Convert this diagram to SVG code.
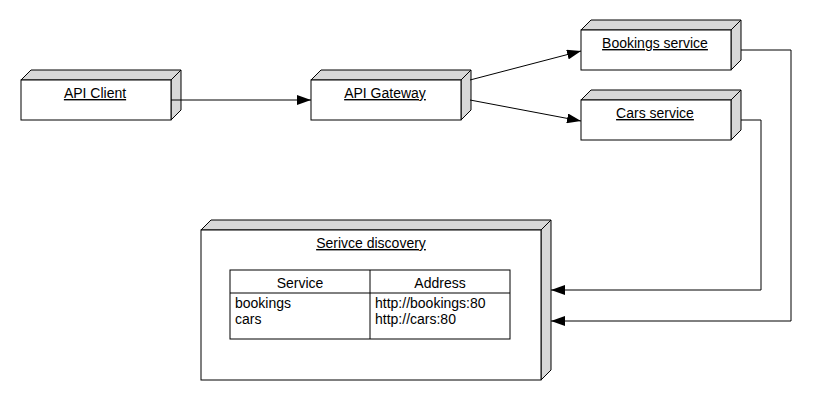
<svg xmlns="http://www.w3.org/2000/svg" width="830" height="400" viewBox="0 0 830 400">
<style>
.face{fill:#d8d8d8;stroke:#000;stroke-width:1}
.front{fill:#fff;stroke:#000;stroke-width:1}
.lbl{font-family:"Liberation Sans",Arial,sans-serif;font-size:14px;fill:#000;text-anchor:middle;text-decoration:underline}
.txt{font-family:"Liberation Sans",Arial,sans-serif;font-size:14px;fill:#000}
.conn{fill:none;stroke:#000;stroke-width:1}
</style>
<defs>
<marker id="arr" viewBox="0 0 14 10" refX="14" refY="5" markerWidth="14" markerHeight="10" markerUnits="userSpaceOnUse" orient="auto">
<path d="M0,0 L14,5 L0,10 Z" fill="#000"/>
</marker>
</defs>
<rect width="830" height="400" fill="#fff"/>
<g id="api-client">
<polygon class="face" points="21,80 31,70 181,70 171,80"/>
<polygon class="face" points="171,80 181,70 181,110 171,120"/>
<rect class="front" x="21" y="80" width="150" height="40"/>
<text class="lbl" x="95" y="98">API Client</text>
</g>
<g id="api-gateway">
<polygon class="face" points="311,80 321,70 471,70 461,80"/>
<polygon class="face" points="461,80 471,70 471,110 461,120"/>
<rect class="front" x="311" y="80" width="150" height="40"/>
<text class="lbl" x="385" y="98">API Gateway</text>
</g>
<g id="bookings-service">
<polygon class="face" points="581,30 591,20 741,20 731,30"/>
<polygon class="face" points="731,30 741,20 741,60 731,70"/>
<rect class="front" x="581" y="30" width="150" height="40"/>
<text class="lbl" x="655" y="48">Bookings service</text>
</g>
<g id="cars-service">
<polygon class="face" points="581,100 591,90 741,90 731,100"/>
<polygon class="face" points="731,100 741,90 741,130 731,140"/>
<rect class="front" x="581" y="100" width="150" height="40"/>
<text class="lbl" x="655" y="118">Cars service</text>
</g>
<g id="service-discovery">
<polygon class="face" points="201,230 211,220 551,220 541,230"/>
<polygon class="face" points="541,230 551,220 551,370 541,380"/>
<rect class="front" x="201" y="230" width="340" height="150"/>
<text class="lbl" x="371" y="248">Serivce discovery</text>
<rect class="front" x="230" y="270" width="280" height="69"/>
<line class="conn" x1="370" y1="270" x2="370" y2="339" stroke-width="1.5"/>
<line class="conn" x1="230" y1="293" x2="510" y2="293"/>
<text class="txt" x="300" y="288" text-anchor="middle">Service</text>
<text class="txt" x="440" y="288" text-anchor="middle">Address</text>
<text class="txt" x="235" y="308">bookings</text>
<text class="txt" x="235" y="324">cars</text>
<text class="txt" x="375" y="308">http://bookings:80</text>
<text class="txt" x="375" y="324">http://cars:80</text>
</g>
<g id="connectors">
<line class="conn" x1="171" y1="100" x2="311" y2="100" marker-end="url(#arr)"/>
<line class="conn" x1="470" y1="80" x2="581" y2="51" marker-end="url(#arr)"/>
<line class="conn" x1="470" y1="100" x2="581" y2="121" marker-end="url(#arr)"/>
<polyline class="conn" points="741,50 791,50 791,321 551,321" marker-end="url(#arr)"/>
<polyline class="conn" points="741,120 761,120 761,290 551,290" marker-end="url(#arr)"/>
</g>
</svg>
